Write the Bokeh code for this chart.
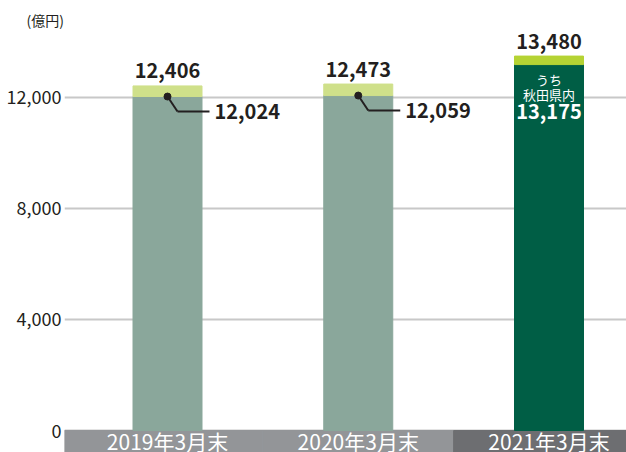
from bokeh.plotting import figure
from bokeh.models import ColumnDataSource, FixedTicker, NumeralTickFormatter, Range1d
from bokeh.embed import file_html
from bokeh.resources import INLINE
from bokeh.core.properties import value

# ---- data ----
categories = ["2019年3月末", "2020年3月末", "2021年3月末"]
totals = [12406, 12473, 13480]          # 総額
akita = [12024, 12059, 13175]           # うち秋田県内
y_ticks = [0, 4000, 8000, 12000]
unit_label = "(億円)"
inner_caption = ["うち", "秋田県内"]
leader_idx = [0, 1]
inner_idx = [2]

# ---- style ----
FONT = "Noto Sans CJK JP"
TXT = "#231f20"
body_colors = ["#8aa79b", "#8aa79b", "#005e45"]
cap_colors = ["#cfe08a", "#cfe08a", "#b5d334"]
band_colors = ["#939598", "#939598", "#6d6e71"]
W, H = 626, 452
LEFT = 64
TOP = 30
PX_PER_UNIT = 0.027775
y_start = -22 / PX_PER_UNIT
y_end = (H - TOP - 22) / PX_PER_UNIT
X_PX = 190.75
x_start = -0.54
x_end = x_start + (W - LEFT) / X_PX
BAR_W = 69 / X_PX

xs = list(range(len(categories)))

p = figure(width=W, height=H, x_range=Range1d(x_start, x_end), y_range=Range1d(y_start, y_end),
           output_backend="svg", toolbar_location=None, x_axis_location=None,
           min_border_left=LEFT, min_border_right=0, min_border_top=TOP, min_border_bottom=0)
p.outline_line_color = None
p.background_fill_color = "white"
p.xgrid.visible = False
p.ygrid.ticker = FixedTicker(ticks=y_ticks)
p.ygrid.grid_line_color = "#c8c8c8"
p.ygrid.grid_line_width = 2

p.title.text = unit_label
p.title.align = "left"
p.title.offset = 26 - LEFT
p.title.standoff = 2
p.title.text_font = FONT
p.title.text_font_size = "14px"
p.title.text_font_style = "normal"
p.title.text_color = TXT

ax = p.yaxis[0]
ax.ticker = FixedTicker(ticks=y_ticks)
ax.formatter = NumeralTickFormatter(format="0,0")
ax.axis_line_color = None
ax.major_tick_line_color = None
ax.minor_tick_line_color = None
ax.major_tick_out = 0
ax.major_tick_in = 0
ax.major_label_text_font = FONT
ax.major_label_text_font_size = "18px"
ax.major_label_text_color = TXT
ax.major_label_standoff = 3

# band under the categories (first cell runs to the frame edge)
band_left = [x - 0.5 for x in xs]
band_left[0] = x_start
band = ColumnDataSource(dict(left=band_left, right=[x + 0.5 for x in xs],
                             bottom=[y_start] * len(xs), top=[0] * len(xs), color=band_colors))
p.quad(left="left", right="right", bottom="bottom", top="top", color="color", source=band)

src = ColumnDataSource(dict(x=xs, total=totals, akita=akita, zero=[0] * len(xs),
                            body=body_colors, cap=cap_colors, cat=categories,
                            total_txt=[f"{v:,}" for v in totals]))
p.vbar(x="x", width=BAR_W, bottom="zero", top="akita", color="body", source=src)
p.vbar(x="x", width=BAR_W, bottom="akita", top="total", color="cap", source=src)

# category labels
p.text(x="x", y="zero", text="cat", source=src, text_align="center", text_baseline="middle",
       y_offset=10, text_color="white", text_font=value(FONT), text_font_size="21px")

# total labels
p.text(x="x", y="total", text="total_txt", source=src, text_align="center",
       text_baseline="middle", y_offset=-15, text_color=TXT, text_font=value(FONT),
       text_font_size="20px", text_font_style="bold")

# leaders for Akita values on first bars
dx1 = 10 / X_PX
dx2 = 42 / X_PX
dy = 15 / PX_PER_UNIT
lx = [xs[i] for i in leader_idx]
ly = [akita[i] for i in leader_idx]
p.segment(x0=lx, y0=ly, x1=[x + dx1 for x in lx], y1=[y - dy for y in ly], line_color=TXT, line_width=2)
p.segment(x0=[x + dx1 for x in lx], y0=[y - dy for y in ly], x1=[x + dx2 for x in lx],
          y1=[y - dy for y in ly], line_color=TXT, line_width=2)
p.scatter(x=lx, y=ly, size=7, color=TXT)
p.text(x=[x + dx2 for x in lx], y=[y - dy for y in ly], text=[f"{akita[i]:,}" for i in leader_idx],
       x_offset=5, text_baseline="middle", text_align="left", text_color=TXT,
       text_font=value(FONT), text_font_size="20px", text_font_style="bold")

# inside label for last bar
for i in inner_idx:
    for k, cap in enumerate(inner_caption):
        p.text(x=[xs[i]], y=[akita[i]], text=[cap], y_offset=15 + 15 * k, text_align="center",
               text_baseline="middle", text_color="white", text_font=value(FONT), text_font_size="13px")
    p.text(x=[xs[i]], y=[akita[i]], text=[f"{akita[i]:,}"], y_offset=47, text_align="center",
           text_baseline="middle", text_color="white", text_font=value(FONT), text_font_size="20px",
           text_font_style="bold")

open("out.html", "w").write(file_html(p, INLINE))
